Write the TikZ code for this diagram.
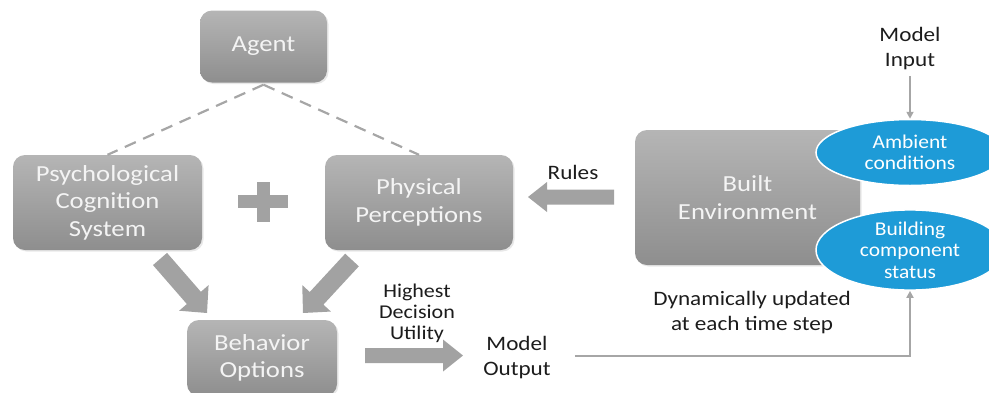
\documentclass[tikz,border=0pt]{standalone}
\usepackage{fontspec}
\setmainfont{Carlito}
\newfontfamily\boxfont{Carlito}[FakeStretch=1.16]
\newfontfamily\labelfont{Carlito}[FakeStretch=1.13]
\newfontfamily\ovalfont{Carlito}[FakeStretch=1.1]
\usetikzlibrary{calc,shadows,shapes.geometric,arrows.meta}

\definecolor{boxtop}{HTML}{B5B5B5}
\definecolor{boxbot}{HTML}{8E8E8E}
\definecolor{boxtext}{HTML}{F4F4F4}
\definecolor{arrowgray}{HTML}{A2A2A2}
\definecolor{linegray}{HTML}{A6A6A6}
\definecolor{ovalblue}{HTML}{1E9BD7}
\definecolor{ink}{HTML}{1C1C1C}

\tikzset{
  graybox/.style={rectangle, rounded corners=12pt, top color=boxtop, bottom color=boxbot,
    draw=none, text=boxtext, align=center, inner sep=0pt,
    font=\boxfont\fontsize{23}{27.5}\selectfont,
    drop shadow={opacity=0.18, shadow xshift=1.5pt, shadow yshift=-1.5pt}},
  oval/.style={ellipse, fill=ovalblue, draw=white, line width=1.5pt, text=white,
    align=center, inner sep=0pt, font=\ovalfont\fontsize{19.5}{21.5}\selectfont},
  caption/.style={text=ink, align=center, inner sep=0pt,
    font=\labelfont\fontsize{20.5}{25}\selectfont},
  smallcaption/.style={text=ink, align=center, inner sep=0pt,
    font=\labelfont\fontsize{19.5}{21}\selectfont},
  dashlink/.style={draw=linegray, line width=2.2pt, dash pattern=on 12pt off 8pt},
  thinarrow/.style={draw=linegray, line width=2pt, -{Triangle[length=7pt,width=7pt]}},
  blockfill/.style={fill=arrowgray}
}

% block arrow: #2 tail, #3 tip, #4 shaft half-width, #5 head half-width, #6 head length
\newcommand{\blockarrow}[6][]{%
  \coordinate (ba-h) at ($(#3)!#6!(#2)$);
  \fill[blockfill,#1] ($(#2)!#4!90:(#3)$) -- ($(ba-h)!#4!90:(#3)$) -- ($(ba-h)!#5!90:(#3)$)
    -- (#3) -- ($(ba-h)!#5!-90:(#3)$) -- ($(ba-h)!#4!-90:(#3)$) -- ($(#2)!#4!-90:(#3)$) -- cycle;
}

\begin{document}
\begin{tikzpicture}[x=1pt,y=-1pt]
\useasboundingbox (0,0) rectangle (989,392);

% boxes
\node[graybox, minimum width=127pt, minimum height=72pt] (agent) at (263.5,46.5) {Agent};
\node[graybox, minimum width=189pt, minimum height=95pt] (psych) at (107.5,202.5)
  {Psychological\\Cognition\\System};
\node[graybox, minimum width=188pt, minimum height=95pt] (phys) at (419,202.5)
  {Physical\\Perceptions};
\node[graybox, minimum width=150pt, minimum height=76pt] (behav) at (262,358)
  {Behavior\\Options};
\node[graybox, minimum width=225pt, minimum height=135pt] (built) at (747.5,197.5)
  {Built\\Environment};

% ovals on the built environment
\node[oval, minimum width=188pt, minimum height=66pt] (ambient) at (910,152.5)
  {Ambient\\conditions};
\node[oval, minimum width=188pt, minimum height=68pt] (status) at (910,250)
  {Building\\component\\status};

% plain labels
\node[caption] (input) at (910,48.5) {Model\\Input};
\node[caption] (output) at (517,357.5) {Model\\Output};
\node[caption] (rules) at (573,172) {Rules};
\node[caption] (dyn) at (752,312.5) {Dynamically updated\\at each time step};
\node[smallcaption] (utility) at (417,313) {Highest\\Decision\\Utility};

% dashed links from the agent
\draw[dashlink] (agent.south) ++(0,2) coordinate (apex) -- (psych.north);
\draw[dashlink] (apex) -- (phys.north);

% plus sign
\fill[arrowgray] (238,194.5) rectangle (288,207.5);
\fill[arrowgray] (257,182) rectangle (270,222);

% block arrows
\coordinate (psych-tail) at (160,259);
\coordinate (behav-tipL) at (207,313);
\coordinate (phys-tail) at (352,260);
\coordinate (behav-tipR) at (303,313);
\coordinate (built-tail) at (614,197);
\coordinate (phys-tip) at (528,197);
\coordinate (behav-tail) at (365,355.5);
\coordinate (output-tip) at (463,355.5);
\blockarrow{psych-tail}{behav-tipL}{9.3pt}{19.5pt}{20pt}
\blockarrow{phys-tail}{behav-tipR}{9.3pt}{19.5pt}{20pt}
\blockarrow{built-tail}{phys-tip}{7.5pt}{15pt}{19pt}
\blockarrow{behav-tail}{output-tip}{7.5pt}{16pt}{20pt}

% thin arrows
\draw[thinarrow] (input.south) ++(0,6) -- (ambient.north);
\draw[thinarrow] (output.east) ++(24,-1.5) -- (910,356) -- (status.south);
\end{tikzpicture}
\end{document}
